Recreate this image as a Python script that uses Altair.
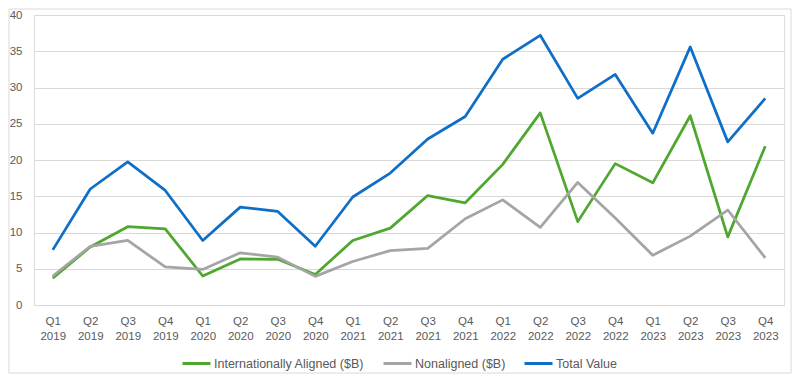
import altair as alt
import pandas as pd

quarters = ["Q1 2019", "Q2 2019", "Q3 2019", "Q4 2019",
            "Q1 2020", "Q2 2020", "Q3 2020", "Q4 2020",
            "Q1 2021", "Q2 2021", "Q3 2021", "Q4 2021",
            "Q1 2022", "Q2 2022", "Q3 2022", "Q4 2022",
            "Q1 2023", "Q2 2023", "Q3 2023", "Q4 2023"]

aligned = [3.7, 8.0, 10.8, 10.5, 4.0, 6.35, 6.3, 4.2, 8.9, 10.6,
           15.1, 14.1, 19.4, 26.5, 11.5, 19.5, 16.85, 26.1, 9.4, 21.9]
nonaligned = [4.0, 8.1, 8.9, 5.25, 4.9, 7.2, 6.6, 3.95, 6.0, 7.5,
              7.8, 11.9, 14.5, 10.7, 16.9, 12.0, 6.85, 9.5, 13.1, 6.5]
total = [7.6, 16.0, 19.75, 15.8, 8.9, 13.5, 12.9, 8.1, 14.9, 18.2,
         22.9, 26.0, 33.9, 37.2, 28.5, 31.8, 23.7, 35.6, 22.5, 28.5]

series_names = ["Internationally Aligned ($B)", "Nonaligned ($B)", "Total Value"]
series_colors = ["#4EA72E", "#A5A5A5", "#0F6FC6"]
y_ticks = [0, 5, 10, 15, 20, 25, 30, 35, 40]

rows = []
for name, vals in zip(series_names, [aligned, nonaligned, total]):
    for i, (q, v) in enumerate(zip(quarters, vals)):
        rows.append({"quarter": q, "value": v, "series": name,
                     "order": series_names.index(name)})
df = pd.DataFrame(rows)

FONT = "Liberation Sans"
TXT = "#595959"

lines = alt.Chart(df).mark_line(strokeWidth=2.75, strokeJoin="round").encode(
    x=alt.X("quarter:N", sort=quarters, title=None,
            scale=alt.Scale(paddingInner=0, paddingOuter=0.5),
            axis=alt.Axis(labelExpr="split(datum.label, ' ')", labelAngle=0,
                          ticks=False, domain=False, grid=False,
                          labelPadding=10, labelFontSize=11.5, labelColor=TXT,
                          labelFont=FONT, labelLineHeight=15)),
    y=alt.Y("value:Q", title=None,
            scale=alt.Scale(domain=[0, 40], nice=False),
            axis=alt.Axis(values=y_ticks, ticks=False, domain=False,
                          gridColor="#D9D9D9", gridWidth=1,
                          labelPadding=12, labelFontSize=11.5, labelColor=TXT,
                          labelFont=FONT)),
    color=alt.Color("series:N",
                    scale=alt.Scale(domain=series_names, range=series_colors),
                    legend=alt.Legend(title=None, orient="none",
                                      direction="horizontal",
                                      legendX=147, legendY=333,
                                      symbolType="stroke", symbolSize=784,
                                      symbolStrokeWidth=3, labelOffset=2,
                                      columnPadding=12, labelFontSize=12.5,
                                      labelColor=TXT, labelFont=FONT)),
    order=alt.Order("order:Q"),
    detail="series:N",
)

border = alt.Chart(pd.DataFrame({"a": [0]})).mark_rect(
    fill=None, stroke="#D9D9D9", strokeWidth=1
).encode(x=alt.value(-25), x2=alt.value(757), y=alt.value(-6), y2=alt.value(358))

chart = alt.layer(border, lines).properties(
    width=750, height=290,
    autosize=alt.AutoSizeParams(type="none"),
    padding={"left": 26, "top": 7, "right": 8, "bottom": 70},
).configure_view(stroke=None).configure(font=FONT)

chart.save("out.html", embed_options={"renderer": "svg", "actions": False})
